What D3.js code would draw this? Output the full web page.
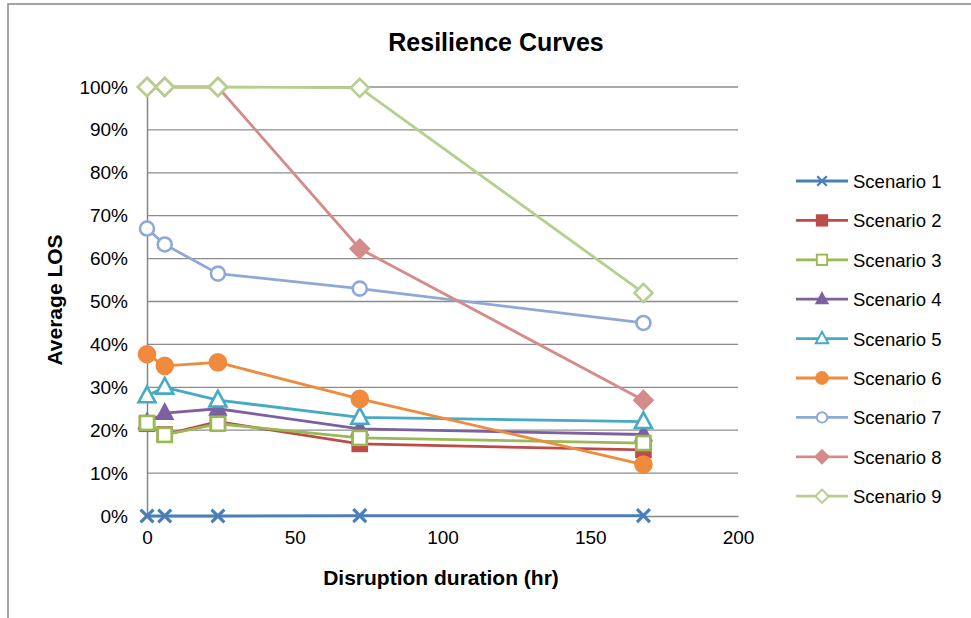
<!DOCTYPE html>
<html>
<head>
<meta charset="utf-8">
<script src="https://cdn.jsdelivr.net/npm/d3@7"></script>
<style>
  body { margin: 0; background: #fff; }
  svg { display: block; font-family: "Liberation Sans", Arial, sans-serif; }
</style>
</head>
<body>
<svg class="svg-main" width="971" height="618"></svg>
<script>
const hours = [0, 6, 24, 72, 168];
const names = ["Scenario 1", "Scenario 2", "Scenario 3", "Scenario 4", "Scenario 5",
  "Scenario 6", "Scenario 7", "Scenario 8", "Scenario 9"];
const scenario1 = [0.0, 0.0, 0.0, 0.1, 0.1];
const scenario2 = [21.5, 19.0, 22.0, 16.8, 15.4];
const scenario3 = [21.7, 18.9, 21.5, 18.2, 17.0];
const scenario4 = [21.8, 24.0, 25.0, 20.3, 19.0];
const scenario5 = [28.0, 30.0, 27.0, 23.0, 22.0];
const scenario6 = [37.7, 35.0, 35.8, 27.3, 12.0];
const scenario7 = [67.0, 63.3, 56.5, 53.0, 45.0];
const scenario8 = [100, 100, 100, 62.3, 27.0];
const scenario9 = [100, 100, 100, 99.8, 52.0];
const yTicks = [0, 10, 20, 30, 40, 50, 60, 70, 80, 90, 100];
const xTicks = [0, 50, 100, 150, 200];

const colors = ["#4A7EBB", "#BE4B48", "#98B954", "#7D60A0", "#46AAC5",
  "#F08A3C", "#8EA9D8", "#D48B8A", "#B5CF8E"];
const shapes = ["cross", "square", "squareOpen", "triangle", "triangleOpen",
  "circle", "circleOpen", "diamond", "diamondOpen"];
// stacking order on the plot (scenario 3 sits above scenario 4)
const drawOrder = [0, 1, 3, 2, 4, 5, 6, 7, 8];

const series = [scenario1, scenario2, scenario3, scenario4, scenario5,
  scenario6, scenario7, scenario8, scenario9].map((vals, i) => ({
  name: names[i], color: colors[i], shape: shapes[i],
  points: vals.map((v, j) => ({ x: hours[j], y: v }))
}));

const svg = d3.select(".svg-main");

// chart frame
svg.append("rect")
  .attr("x", 8).attr("y", 4)
  .attr("width", 1000).attr("height", 700)
  .attr("fill", "none").attr("stroke", "#868686").attr("stroke-width", 1.5);

const x = d3.scaleLinear().domain([0, 200]).range([147, 738]);
const y = d3.scaleLinear().domain([0, 100]).range([516, 87]);

// gridlines
svg.append("g")
  .selectAll("line")
  .data(yTicks.filter(d => d > 0))
  .enter().append("line")
    .attr("x1", x(0)).attr("x2", x(200))
    .attr("y1", d => y(d)).attr("y2", d => y(d))
    .attr("stroke", "#8c8c8c").attr("stroke-width", 1.3);

// axes
const yAxis = svg.append("g")
  .attr("transform", `translate(${x(0)},0)`)
  .call(d3.axisLeft(y).tickValues(yTicks).tickSize(0).tickPadding(19).tickFormat(d => d + "%"));
const xAxis = svg.append("g")
  .attr("transform", `translate(0,${y(0)})`)
  .call(d3.axisBottom(x).tickValues(xTicks).tickSize(0).tickPadding(15));
[yAxis, xAxis].forEach(g => {
  g.select(".domain").attr("stroke", "#868686").attr("stroke-width", 1.5);
  g.selectAll("text").attr("font-size", 19).attr("fill", "#000")
    .attr("font-family", "Liberation Sans, Arial, sans-serif");
});

// titles
svg.append("text")
  .attr("x", 496).attr("y", 51)
  .attr("text-anchor", "middle")
  .attr("font-size", 25).attr("font-weight", "bold")
  .text("Resilience Curves");
svg.append("text")
  .attr("x", 441).attr("y", 585)
  .attr("text-anchor", "middle")
  .attr("font-size", 21).attr("font-weight", "bold")
  .text("Disruption duration (hr)");
svg.append("text")
  .attr("transform", "translate(62,300) rotate(-90)")
  .attr("text-anchor", "middle")
  .attr("font-size", 21).attr("font-weight", "bold")
  .text("Average LOS");

function drawMarker(g, shape, color, scale) {
  const s = scale || 1;
  const open = shape.endsWith("Open");
  const fill = open ? "#fff" : color;
  const base = shape.replace("Open", "");
  const sw = 2.6 * s;
  if (base === "cross") {
    g.append("path")
      .attr("d", d3.symbol(d3.symbolTimes, 110 * s * s)())
      .attr("fill", "none").attr("stroke", color).attr("stroke-width", 3.2 * s);
  } else if (base === "square") {
    const h = 7 * s;
    g.append("rect").attr("x", -h).attr("y", -h).attr("width", 2 * h).attr("height", 2 * h)
      .attr("fill", fill).attr("stroke", color).attr("stroke-width", sw);
  } else if (base === "triangle") {
    const h = (open ? 8.5 : 7.5) * s;
    g.append("path")
      .attr("d", `M0,${-h * 1.1}L${h},${h * 0.75}L${-h},${h * 0.75}Z`)
      .attr("fill", fill).attr("stroke", color).attr("stroke-width", sw)
      .attr("stroke-linejoin", "miter");
  } else if (base === "circle") {
    g.append("circle").attr("r", (open ? 7 : 8) * s)
      .attr("fill", fill).attr("stroke", color).attr("stroke-width", sw);
  } else if (base === "diamond") {
    const h = 9 * s;
    g.append("path")
      .attr("d", `M0,${-h}L${h},0L0,${h}L${-h},0Z`)
      .attr("fill", fill).attr("stroke", color).attr("stroke-width", sw);
  }
}

const line = d3.line().x(d => x(d.x)).y(d => y(d.y));

const plot = svg.append("g");
drawOrder.map(i => series[i]).forEach(s => {
  const g = plot.append("g");
  g.append("path")
    .datum(s.points)
    .attr("d", line)
    .attr("fill", "none")
    .attr("stroke", s.color)
    .attr("stroke-width", 2.8)
    .attr("stroke-linejoin", "round");
  g.selectAll("g.mk")
    .data(s.points)
    .enter().append("g")
      .attr("class", "mk")
      .attr("transform", d => `translate(${x(d.x)},${y(d.y)})`)
      .each(function() { drawMarker(d3.select(this), s.shape, s.color); });
});

// legend
const legend = svg.append("g");
const item = legend.selectAll("g")
  .data(series)
  .enter().append("g")
    .attr("transform", (d, i) => `translate(0,${181 + i * 39.4})`);
item.append("line")
  .attr("x1", 796).attr("x2", 848)
  .attr("stroke", d => d.color).attr("stroke-width", 2.8);
item.each(function(d) {
  const m = d3.select(this).append("g").attr("transform", "translate(822,0)");
  drawMarker(m, d.shape, d.color, 0.74);
});
item.append("text")
  .attr("x", 853).attr("y", 7)
  .attr("font-size", 18.5)
  .text(d => d.name);
</script>
</body>
</html>
